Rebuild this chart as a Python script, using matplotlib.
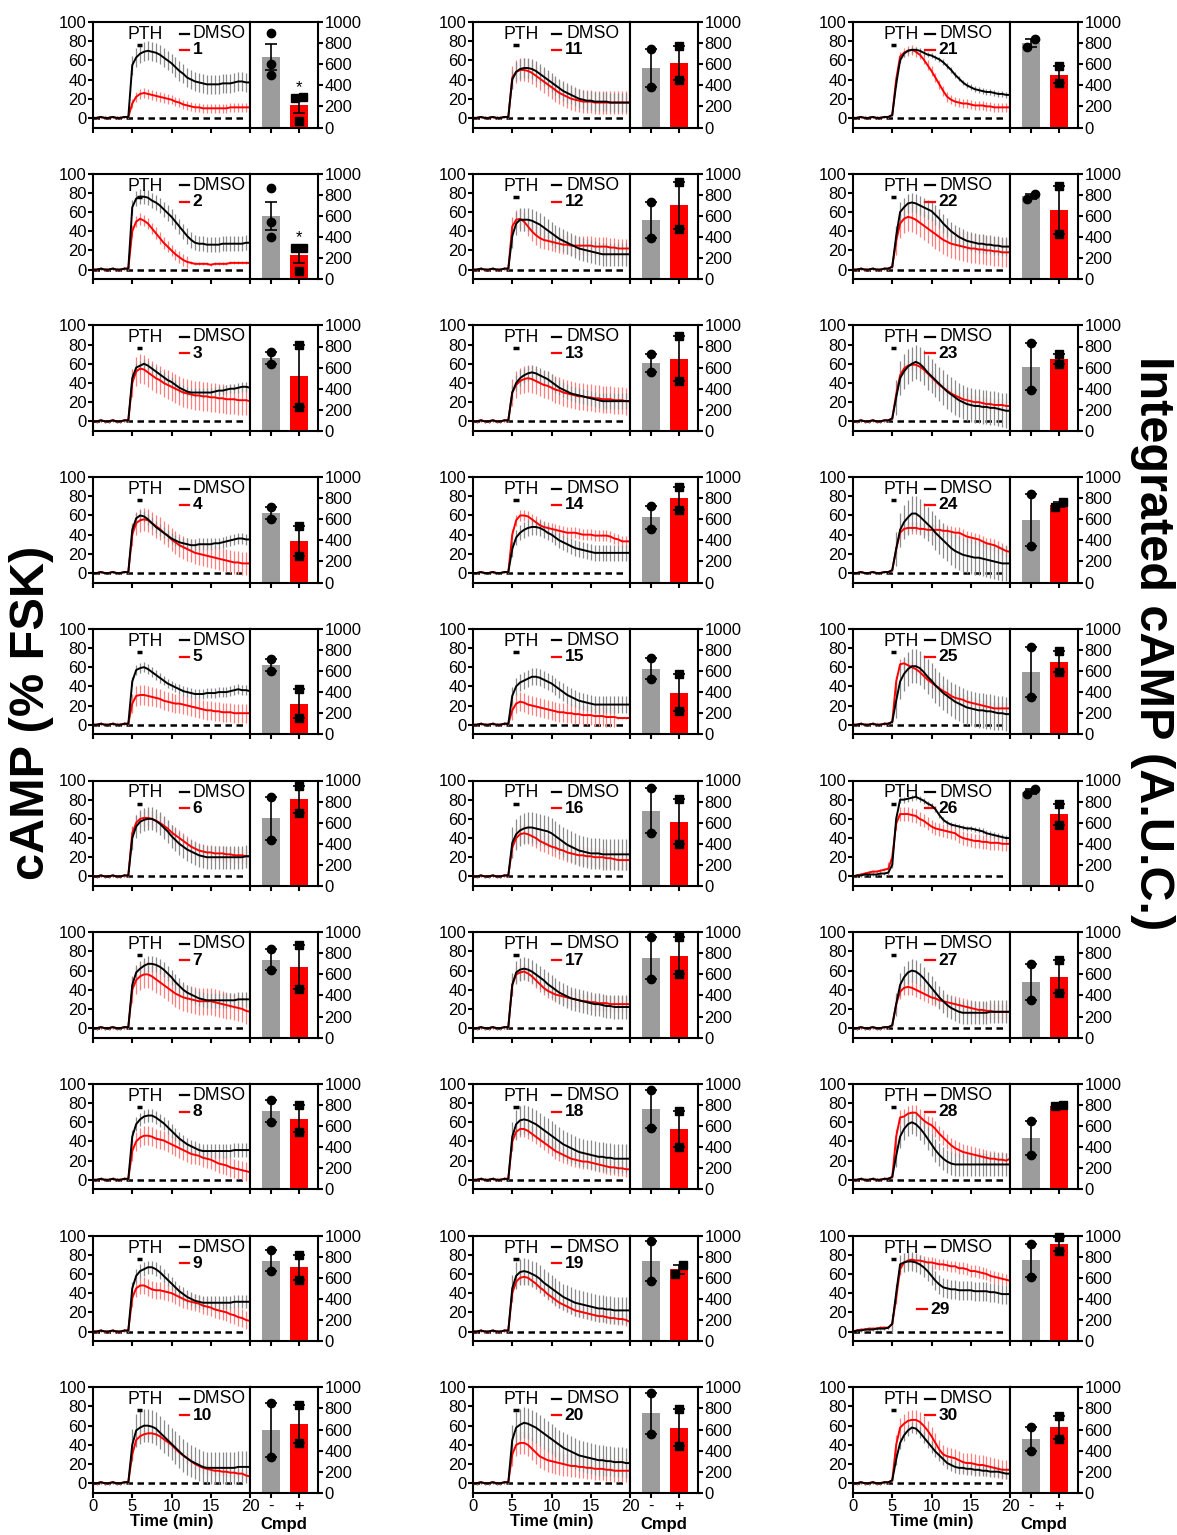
import matplotlib.pyplot as plt
import numpy as np

plt.rcParams['font.family'] = ['Liberation Sans', 'DejaVu Sans']
plt.rcParams['font.size'] = 12

# time grid (min); curves below are read at 0.5 min steps
time = np.arange(0, 20.01, 0.5)

# shared pre-stimulus baseline, t = 0 .. 4.5 min
baseline = [0, 0, 1, 0, 0, 1, 0, 0, 1, 1]
pre_dmso_26 = [0, 1, 1, 2, 2, 2, 2, 3, 3, 4]
pre_cmpd_26 = [0, 1, 2, 3, 4, 5, 5, 6, 7, 8]
pre_dmso_29 = [0, 1, 1, 2, 2, 2, 3, 3, 3, 4]
pre_cmpd_29 = [0, 1, 2, 2, 3, 3, 3, 4, 4, 4]

# cAMP (% FSK) from t = 5 to 20 min
dmso_1 = [55, 63, 67, 69, 70, 69, 68, 66, 63, 60, 57, 53, 49, 46, 42, 40, 38, 37, 36, 35, 35, 35, 35, 36, 36, 36, 37, 38, 38, 37, 37]
cmpd_1 = [15, 22, 25, 26, 25, 24, 23, 22, 21, 20, 19, 17, 16, 14, 13, 12, 11, 11, 10, 10, 10, 10, 10, 10, 10, 11, 11, 11, 11, 11, 11]
dmso_2 = [65, 74, 76, 76, 75, 72, 70, 67, 63, 59, 55, 50, 45, 40, 35, 31, 28, 27, 27, 26, 26, 26, 26, 27, 27, 27, 27, 27, 27, 28, 28]
cmpd_2 = [40, 50, 53, 51, 48, 43, 38, 33, 28, 24, 20, 16, 13, 10, 8, 7, 6, 6, 6, 6, 5, 6, 6, 6, 6, 7, 7, 7, 7, 7, 7]
dmso_3 = [45, 56, 58, 60, 58, 55, 52, 49, 46, 43, 41, 38, 35, 33, 31, 30, 30, 30, 30, 30, 30, 31, 32, 32, 33, 34, 34, 35, 36, 36, 35]
cmpd_3 = [40, 52, 55, 54, 51, 48, 45, 43, 40, 38, 36, 34, 32, 30, 29, 28, 27, 27, 26, 26, 25, 25, 24, 24, 23, 23, 23, 22, 22, 22, 21]
dmso_4 = [45, 57, 60, 59, 56, 52, 48, 45, 42, 39, 36, 34, 32, 31, 30, 29, 29, 30, 30, 30, 30, 31, 31, 32, 33, 34, 35, 36, 36, 35, 35]
cmpd_4 = [40, 52, 55, 56, 55, 52, 49, 46, 42, 39, 35, 32, 29, 27, 25, 23, 21, 20, 19, 18, 17, 16, 15, 14, 13, 12, 11, 11, 10, 10, 10]
dmso_5 = [45, 57, 59, 60, 58, 55, 52, 49, 46, 43, 41, 39, 37, 35, 34, 33, 32, 32, 32, 33, 33, 33, 34, 34, 34, 35, 36, 37, 36, 36, 35]
cmpd_5 = [22, 30, 31, 31, 30, 29, 28, 27, 25, 24, 23, 22, 22, 21, 20, 19, 18, 17, 16, 15, 15, 14, 14, 13, 13, 13, 12, 12, 12, 12, 12]
dmso_6 = [40, 52, 57, 59, 60, 60, 58, 55, 51, 47, 42, 38, 34, 31, 28, 26, 24, 22, 21, 20, 20, 20, 20, 20, 20, 20, 20, 20, 20, 21, 21]
cmpd_6 = [45, 56, 60, 61, 61, 60, 58, 56, 53, 50, 46, 43, 40, 37, 34, 31, 29, 27, 26, 25, 25, 24, 24, 24, 23, 23, 22, 22, 22, 21, 21]
dmso_7 = [45, 58, 62, 65, 67, 67, 66, 64, 61, 57, 53, 48, 44, 40, 37, 35, 33, 31, 30, 29, 29, 29, 29, 29, 29, 29, 29, 30, 30, 30, 30]
cmpd_7 = [40, 50, 54, 56, 56, 54, 51, 48, 45, 42, 39, 36, 34, 32, 31, 30, 29, 28, 28, 28, 28, 27, 26, 25, 24, 23, 22, 21, 20, 18, 17]
dmso_8 = [45, 58, 63, 66, 67, 67, 65, 62, 59, 55, 51, 47, 43, 40, 37, 35, 33, 31, 30, 30, 30, 30, 30, 30, 30, 30, 31, 31, 31, 31, 31]
cmpd_8 = [30, 40, 44, 46, 46, 45, 43, 42, 41, 39, 37, 35, 33, 31, 29, 27, 26, 25, 23, 22, 21, 19, 17, 16, 15, 13, 12, 11, 10, 9, 8]
dmso_9 = [45, 58, 63, 65, 67, 67, 65, 62, 58, 54, 50, 46, 42, 39, 36, 34, 32, 31, 30, 30, 30, 30, 30, 30, 30, 30, 31, 31, 31, 31, 31]
cmpd_9 = [35, 45, 48, 48, 46, 44, 43, 43, 42, 41, 40, 38, 36, 34, 32, 31, 30, 29, 27, 26, 25, 23, 22, 21, 20, 18, 17, 15, 14, 12, 11]
dmso_10 = [40, 55, 58, 60, 60, 59, 57, 53, 49, 45, 41, 37, 33, 29, 26, 23, 21, 19, 17, 16, 16, 16, 16, 16, 16, 16, 16, 17, 17, 17, 17]
cmpd_10 = [30, 45, 49, 51, 52, 52, 51, 49, 46, 43, 40, 36, 32, 29, 26, 23, 20, 18, 16, 15, 14, 13, 13, 12, 12, 11, 11, 10, 10, 8, 7]
dmso_11 = [40, 48, 51, 52, 52, 51, 49, 46, 43, 40, 37, 34, 31, 28, 26, 24, 22, 20, 19, 18, 18, 17, 17, 17, 17, 16, 16, 16, 16, 16, 16]
cmpd_11 = [42, 48, 50, 50, 49, 47, 44, 41, 38, 35, 32, 29, 26, 24, 22, 20, 19, 18, 17, 17, 17, 16, 16, 16, 16, 16, 16, 16, 16, 16, 16]
dmso_12 = [35, 48, 52, 52, 52, 51, 49, 47, 44, 41, 38, 35, 32, 30, 28, 26, 24, 22, 21, 20, 19, 18, 17, 16, 16, 16, 16, 16, 16, 16, 16]
cmpd_12 = [45, 52, 53, 50, 45, 40, 36, 33, 31, 30, 29, 28, 27, 26, 26, 25, 25, 25, 25, 25, 25, 24, 24, 24, 24, 23, 23, 22, 22, 22, 22]
dmso_13 = [30, 40, 45, 48, 50, 51, 50, 48, 46, 44, 41, 38, 35, 33, 31, 29, 28, 27, 26, 25, 24, 23, 22, 21, 21, 21, 21, 21, 21, 21, 21]
cmpd_13 = [30, 38, 42, 44, 45, 44, 42, 40, 38, 37, 35, 33, 32, 30, 29, 28, 27, 26, 26, 25, 25, 24, 24, 23, 23, 23, 22, 22, 22, 21, 21]
dmso_14 = [25, 37, 42, 45, 47, 48, 48, 47, 45, 42, 40, 37, 34, 32, 30, 28, 26, 25, 24, 23, 22, 21, 21, 21, 21, 21, 21, 21, 21, 21, 21]
cmpd_14 = [40, 55, 60, 60, 59, 56, 53, 50, 48, 47, 46, 45, 44, 43, 42, 42, 42, 41, 40, 40, 40, 39, 39, 39, 39, 38, 36, 35, 33, 33, 33]
dmso_15 = [30, 40, 44, 46, 48, 50, 50, 49, 47, 45, 43, 40, 37, 34, 31, 29, 27, 25, 24, 23, 22, 21, 21, 21, 21, 21, 21, 21, 21, 21, 21]
cmpd_15 = [15, 22, 24, 23, 21, 20, 19, 18, 17, 16, 15, 14, 13, 13, 12, 12, 11, 11, 10, 10, 10, 9, 9, 9, 8, 8, 8, 7, 7, 7, 7]
dmso_16 = [35, 44, 48, 50, 51, 51, 50, 49, 48, 47, 45, 42, 39, 36, 33, 31, 29, 27, 26, 25, 24, 24, 24, 23, 23, 23, 23, 23, 23, 23, 23]
cmpd_16 = [30, 40, 44, 45, 44, 42, 40, 37, 35, 33, 31, 30, 28, 27, 25, 24, 23, 22, 22, 21, 21, 20, 20, 20, 19, 19, 18, 17, 17, 17, 17]
dmso_17 = [45, 58, 61, 62, 61, 59, 56, 53, 50, 46, 43, 40, 37, 35, 33, 31, 30, 29, 28, 27, 26, 25, 25, 24, 23, 23, 22, 22, 22, 22, 22]
cmpd_17 = [45, 56, 58, 59, 57, 54, 50, 46, 42, 39, 37, 35, 34, 33, 32, 31, 30, 29, 28, 28, 27, 27, 26, 26, 26, 25, 25, 25, 25, 25, 25]
dmso_18 = [45, 58, 62, 63, 62, 60, 58, 55, 52, 49, 46, 43, 40, 37, 35, 33, 31, 29, 28, 27, 26, 25, 24, 24, 23, 23, 22, 22, 22, 22, 22]
cmpd_18 = [40, 50, 53, 53, 51, 48, 45, 42, 39, 36, 33, 30, 28, 26, 24, 22, 21, 20, 19, 19, 18, 17, 16, 15, 14, 13, 13, 12, 12, 11, 11]
dmso_19 = [45, 58, 62, 63, 62, 60, 58, 55, 51, 48, 45, 42, 39, 36, 34, 32, 30, 29, 28, 27, 26, 25, 24, 24, 23, 23, 22, 22, 22, 22, 22]
cmpd_19 = [40, 52, 56, 57, 56, 53, 50, 46, 43, 39, 36, 33, 30, 28, 26, 24, 22, 21, 20, 19, 18, 17, 16, 16, 15, 14, 14, 13, 13, 12, 10]
dmso_20 = [45, 58, 61, 63, 62, 60, 58, 55, 52, 49, 46, 43, 40, 37, 35, 33, 31, 29, 28, 27, 26, 25, 24, 24, 23, 23, 22, 22, 22, 21, 21]
cmpd_20 = [30, 40, 42, 42, 40, 36, 32, 28, 26, 24, 23, 22, 21, 20, 19, 18, 18, 17, 17, 16, 16, 15, 15, 15, 14, 14, 13, 13, 13, 13, 13]
dmso_21 = [3, 35, 60, 67, 70, 71, 71, 70, 68, 66, 65, 63, 61, 58, 54, 50, 45, 41, 37, 34, 32, 30, 29, 28, 27, 27, 26, 25, 25, 24, 24]
cmpd_21 = [3, 40, 64, 68, 70, 71, 69, 66, 61, 55, 49, 42, 35, 28, 22, 19, 17, 16, 15, 15, 14, 13, 13, 13, 12, 12, 11, 11, 11, 11, 11]
dmso_22 = [3, 35, 60, 65, 69, 70, 69, 67, 65, 63, 61, 57, 53, 48, 44, 40, 37, 34, 32, 30, 29, 28, 27, 27, 26, 26, 25, 25, 24, 24, 24]
cmpd_22 = [3, 30, 48, 53, 55, 54, 52, 49, 46, 43, 40, 37, 34, 31, 29, 27, 26, 25, 24, 23, 22, 22, 21, 21, 20, 20, 19, 19, 18, 18, 18]
dmso_23 = [3, 25, 45, 52, 57, 60, 62, 60, 56, 51, 47, 43, 39, 35, 31, 28, 25, 22, 20, 18, 17, 16, 16, 15, 15, 14, 14, 13, 12, 11, 11]
cmpd_23 = [3, 28, 48, 55, 58, 59, 59, 57, 54, 50, 46, 42, 38, 35, 32, 29, 27, 25, 23, 22, 21, 20, 20, 19, 18, 18, 17, 17, 17, 16, 16]
dmso_24 = [3, 25, 45, 53, 58, 62, 62, 59, 55, 51, 47, 42, 38, 34, 30, 26, 23, 21, 19, 18, 17, 16, 16, 15, 14, 13, 12, 11, 10, 10, 10]
cmpd_24 = [3, 25, 42, 46, 47, 47, 47, 46, 46, 45, 45, 45, 45, 44, 44, 43, 42, 42, 40, 38, 37, 36, 35, 33, 31, 30, 29, 27, 25, 23, 22]
dmso_25 = [3, 25, 45, 53, 58, 61, 61, 59, 55, 50, 46, 41, 37, 33, 30, 27, 24, 22, 20, 18, 17, 16, 15, 15, 14, 14, 13, 12, 12, 11, 11]
cmpd_25 = [3, 45, 63, 64, 62, 60, 58, 55, 51, 47, 44, 41, 38, 35, 33, 30, 28, 27, 26, 24, 23, 22, 21, 20, 19, 18, 17, 17, 17, 17, 17]
dmso_26 = [12, 60, 80, 80, 81, 82, 83, 81, 79, 76, 74, 70, 64, 59, 56, 54, 53, 52, 51, 50, 50, 49, 48, 47, 45, 44, 43, 42, 41, 40, 40]
cmpd_26 = [20, 55, 65, 65, 65, 64, 63, 60, 58, 55, 52, 50, 49, 48, 47, 46, 45, 42, 40, 39, 38, 37, 37, 36, 36, 35, 35, 35, 34, 34, 34]
dmso_27 = [3, 25, 45, 53, 58, 60, 59, 56, 52, 47, 42, 37, 32, 28, 24, 21, 19, 17, 16, 16, 16, 16, 16, 16, 16, 17, 17, 17, 17, 17, 17]
cmpd_27 = [3, 25, 38, 42, 43, 42, 40, 38, 36, 34, 32, 31, 29, 28, 27, 26, 25, 24, 23, 22, 21, 20, 19, 19, 18, 18, 17, 17, 17, 17, 17]
dmso_28 = [3, 25, 45, 53, 58, 60, 58, 54, 49, 43, 37, 31, 26, 22, 19, 17, 16, 16, 16, 16, 16, 16, 16, 16, 16, 16, 16, 16, 16, 16, 16]
cmpd_28 = [3, 45, 65, 66, 69, 70, 70, 66, 62, 59, 57, 53, 48, 44, 40, 36, 33, 31, 29, 28, 27, 26, 25, 24, 23, 22, 22, 21, 21, 20, 22]
dmso_29 = [8, 40, 70, 72, 73, 73, 72, 70, 67, 63, 58, 53, 49, 46, 45, 44, 44, 43, 43, 43, 43, 42, 42, 42, 42, 41, 41, 40, 39, 39, 39]
cmpd_29 = [8, 35, 65, 72, 74, 75, 74, 74, 73, 72, 72, 71, 70, 70, 69, 68, 68, 66, 66, 65, 63, 63, 62, 61, 60, 58, 57, 56, 55, 54, 53]
dmso_30 = [3, 25, 42, 50, 55, 58, 57, 53, 48, 43, 38, 33, 29, 25, 21, 19, 17, 16, 16, 15, 15, 14, 14, 13, 13, 12, 12, 12, 11, 10, 10]
cmpd_30 = [3, 40, 58, 62, 65, 66, 66, 64, 60, 55, 49, 42, 35, 30, 28, 27, 26, 24, 22, 21, 21, 20, 19, 19, 18, 17, 16, 15, 14, 14, 14]

dmso_curves = [dmso_1, dmso_2, dmso_3, dmso_4, dmso_5, dmso_6, dmso_7, dmso_8, dmso_9, dmso_10,
               dmso_11, dmso_12, dmso_13, dmso_14, dmso_15, dmso_16, dmso_17, dmso_18, dmso_19, dmso_20,
               dmso_21, dmso_22, dmso_23, dmso_24, dmso_25, dmso_26, dmso_27, dmso_28, dmso_29, dmso_30]
cmpd_curves = [cmpd_1, cmpd_2, cmpd_3, cmpd_4, cmpd_5, cmpd_6, cmpd_7, cmpd_8, cmpd_9, cmpd_10,
               cmpd_11, cmpd_12, cmpd_13, cmpd_14, cmpd_15, cmpd_16, cmpd_17, cmpd_18, cmpd_19, cmpd_20,
               cmpd_21, cmpd_22, cmpd_23, cmpd_24, cmpd_25, cmpd_26, cmpd_27, cmpd_28, cmpd_29, cmpd_30]

# typical SEM of each trace after stimulation
sem_dmso = [10, 8, 5, 6, 5, 12, 8, 7, 7, 17, 10, 12, 8, 8, 9, 16, 12, 15, 14, 16, 3, 10, 18, 18, 18, 3, 12, 12, 10, 6]
sem_cmpd = [5, 6, 15, 12, 10, 8, 14, 10, 9, 5, 12, 10, 14, 6, 10, 10, 8, 8, 6, 12, 5, 15, 6, 6, 6, 7, 8, 8, 6, 10]

# integrated cAMP (A.U.C.), individual replicates
auc_dmso = [[900, 600, 500], [860, 540, 400], [750, 635], [720, 600], [710, 600],
            [840, 440], [840, 640], [850, 640], [860, 660], [850, 340],
            [740, 380], [735, 390], [730, 560], [730, 510], [720, 520],
            [930, 500], [950, 560], [940, 580], [950, 570], [950, 560],
            [760, 840], [760, 810], [830, 390], [840, 350], [830, 350],
            [870, 920], [700, 360], [650, 330], [920, 610], [620, 400]]
auc_cmpd = [[290, 280, 65], [300, 300, 80], [810, 230], [535, 250], [430, 150],
            [950, 690], [880, 460], [800, 540], [820, 580], [830, 470],
            [770, 450], [920, 480], [900, 470], [910, 690], [570, 220],
            [820, 400], [950, 600], [740, 400], [720, 640], [790, 440],
            [580, 420], [880, 430], [730, 630], [720, 760], [790, 590],
            [780, 580], [740, 420], [790, 800], [990, 855], [730, 510]]
significant = [1, 2]

W, H = 1177, 1535
col_left = [93, 473, 853]
time_w, bar_w, ax_h = 157, 68, 105.5
row_step = 151.7

# legend layout per column (in data units)
legend_pos = [
    dict(pth=6.6, pth_bar=(5.6, 6.3), dash=(11.1, 12.2), txt=12.7),
    dict(pth=6.2, pth_bar=(5.1, 5.8), dash=(10.0, 11.2), txt=11.9),
    dict(pth=6.1, pth_bar=(4.9, 5.5), dash=(9.2, 10.4), txt=11.0),
]


def spread(values):
    vals = np.asarray(values, float)
    offs = np.zeros(len(vals))
    order = np.argsort(vals)
    for a, b in zip(order[:-1], order[1:]):
        if vals[b] - vals[a] < 90 and offs[a] == 0 and offs[b] == 0:
            offs[a], offs[b] = -0.14, 0.14
    return offs


def plot_time_course(ax, k, col, bottom_row):
    num = k + 1
    pre_d, pre_c = baseline, baseline
    if num == 26:
        pre_d, pre_c = pre_dmso_26, pre_cmpd_26
    if num == 29:
        pre_d, pre_c = pre_dmso_29, pre_cmpd_29
    yd = np.array(pre_d + dmso_curves[k], float)
    yc = np.array(pre_c + cmpd_curves[k], float)
    ed = np.where(yd < 8, 1.5, sem_dmso[k])
    ec = np.where(yc < 8, 1.5, sem_cmpd[k])

    ax.plot([0, 19.6], [0, 0], color='black', lw=1.8, dashes=(2.6, 1.8), zorder=1)
    ax.errorbar(time, yc, yerr=ec, fmt='none', ecolor='#ff7f7f', elinewidth=0.9, zorder=2)
    ax.errorbar(time, yd, yerr=ed, fmt='none', ecolor='#8a8a8a', elinewidth=0.9, zorder=2)
    ax.plot(time, yc, color='#ff0000', lw=1.4, zorder=3)
    ax.plot(time, yd, color='black', lw=1.4, zorder=4)

    lp = legend_pos[col]
    ax.text(lp['pth'], 87, 'PTH', ha='center', va='center', fontsize=12.7)
    ax.plot(lp['pth_bar'], [76, 76], color='black', lw=2.5, solid_capstyle='butt')
    ax.plot(lp['dash'], [88, 88], color='black', lw=1.6)
    ax.text(lp['txt'], 88, 'DMSO', ha='left', va='center', fontsize=12.7)
    cy, cx0 = 71, lp['dash'][0]
    if num == 29:
        cy, cx0 = 23, 8.2
    cx1 = cx0 + lp['dash'][1] - lp['dash'][0]
    ax.plot([cx0, cx1], [cy, cy], color='#ff0000', lw=1.6)
    ax.text(cx1 + 0.5, cy, str(num), ha='left', va='center', fontsize=12.5, fontweight='bold')

    ax.set_xlim(0, 20)
    ax.set_ylim(-10, 100)
    ax.set_xticks([0, 5, 10, 15, 20])
    ax.set_yticks(range(0, 101, 20))
    if bottom_row:
        ax.set_xlabel('Time (min)', fontweight='bold', fontsize=12, labelpad=0)
    else:
        ax.set_xticklabels([])


def plot_auc(bax, k, bottom_row):
    groups = [(0, auc_dmso[k], '#9c9c9c', 'o'), (1, auc_cmpd[k], '#ff0000', 's')]
    for x, pts, color, marker in groups:
        pts = np.array(pts, float)
        mean = pts.mean()
        sem = pts.std(ddof=1) / np.sqrt(len(pts))
        bax.bar(x, mean, width=0.64, color=color, zorder=1)
        bax.errorbar(x, mean, yerr=sem, fmt='none', ecolor='black', elinewidth=1.2,
                     capsize=4, capthick=1.2, zorder=2)
        bax.plot(x + spread(pts), pts, marker, color='black', ms=6, ls='none',
                 zorder=3, clip_on=False)
        if x == 1 and (k + 1) in significant:
            bax.text(x, mean + sem + 25, '*', ha='center', va='bottom', fontsize=12)
    bax.set_xlim(-0.75, 1.68)
    bax.set_ylim(0, 1000)
    bax.set_yticks(range(0, 1001, 200))
    bax.yaxis.tick_right()
    bax.set_xticks([0, 1])
    if bottom_row:
        bax.set_xticklabels(['-', '+'])
        bax.set_xlabel('Cmpd', fontweight='bold', fontsize=12, labelpad=2)
    else:
        bax.set_xticklabels([])


fig = plt.figure(figsize=(W / 100, H / 100), dpi=100)

for col in range(3):
    for row in range(10):
        k = col * 10 + row
        top = 22 + row * row_step
        y0 = 1 - (top + ax_h) / H
        ax = fig.add_axes([col_left[col] / W, y0, time_w / W, ax_h / H])
        bax = fig.add_axes([(col_left[col] + time_w) / W, y0, bar_w / W, ax_h / H])
        bottom_row = row == 9
        plot_time_course(ax, k, col, bottom_row)
        plot_auc(bax, k, bottom_row)
        for a in (ax, bax):
            for s in a.spines.values():
                s.set_linewidth(1.5)
            a.tick_params(width=1.5, length=3.5, pad=1, labelsize=12)

fig.text(32 / W, 1 - 713 / H, 'cAMP (% FSK)', rotation=90, fontsize=35,
         fontweight='bold', ha='center', va='center')
fig.text(1152 / W, 1 - 643 / H, 'Integrated cAMP (A.U.C.)', rotation=270, fontsize=35,
         fontweight='bold', ha='center', va='center')

fig.savefig('out.png', dpi=100)
